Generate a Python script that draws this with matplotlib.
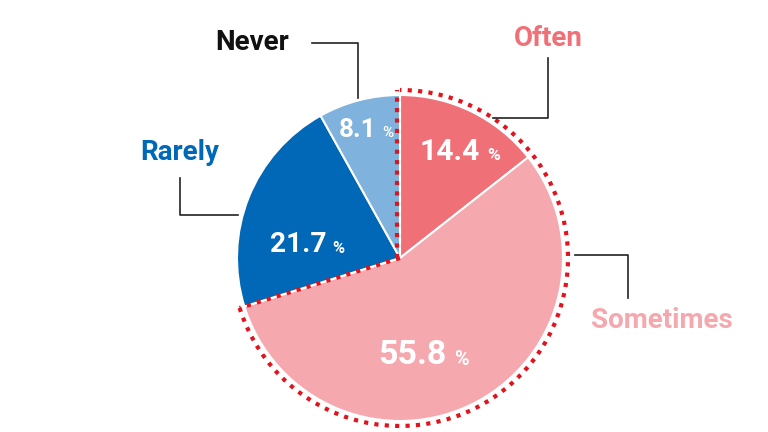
import matplotlib
matplotlib.use("Agg")
import matplotlib.pyplot as plt
import numpy as np
from matplotlib.patches import Arc

categories = ["Often", "Sometimes", "Rarely", "Never"]
values = [14.4, 55.8, 21.7, 8.1]
colors = ["#F07078", "#F5A8AE", "#0068B7", "#7FB2DC"]
label_colors = ["#F07078", "#F5A8AE", "#0068B7", "#111111"]

H = 432
fig = plt.figure(figsize=(7.68, 4.32), dpi=100)
ax = fig.add_axes([0, 0, 1, 1])
ax.set_xlim(0, 768); ax.set_ylim(0, H); ax.set_aspect("equal"); ax.axis("off")

cx, cy, r = 400, H - 258, 163
ax.pie(values, startangle=90, counterclock=False, center=(cx, cy), radius=r,
       colors=colors, wedgeprops=dict(edgecolor="white", linewidth=1.5), frame=True)
ax.set_xlim(0, 768); ax.set_ylim(0, H); ax.axis("off")

# dotted outline around Often + Sometimes
frac = (values[0] + values[1]) / 100
end = 90 - frac * 360
R = 168
red = "#E0141E"
ax.add_patch(Arc((cx, cy), 2 * R, 2 * R, theta1=end, theta2=90, color=red, lw=3, ls=(0, (1, 1.5))))
ax.plot([cx - 3, cx - 3], [cy, cy + R], color=red, lw=3, ls=(0, (1, 1.5)))
ax.plot([cx, cx + R * np.cos(np.radians(end))], [cy, cy + R * np.sin(np.radians(end))],
        color=red, lw=3, ls=(0, (1, 1.5)))

# percentage labels
pct_pos = [(450, 152, 30), (412, 355, 34), (298, 245, 28), (358, 130, 26)]
for v, (px, py, fs) in zip(values, pct_pos):
    t = ax.text(px, H - py, f"{v}", color="white", fontsize=fs * 0.72, fontweight="bold",
                ha="center", va="center", family="Roboto")
    w = len(f"{v}") * fs * 0.3
    ax.text(px + w + 1, H - py - fs * 0.12, "%", color="white", fontsize=fs * 0.42,
            fontweight="bold", ha="left", va="center", family="Roboto")

# category labels
lab_pos = [(548, 38), (662, 320), (180, 152), (252, 42)]
for c, col, (px, py) in zip(categories, label_colors, lab_pos):
    ax.text(px, H - py, c, color=col, fontsize=20, fontweight="bold", ha="center", va="center",
            family="Roboto")

leaders = [
    [(548, 58), (548, 118), (493, 118)],
    [(628, 298), (628, 255), (575, 255)],
    [(180, 178), (180, 215), (238, 215)],
    [(312, 43), (358, 43), (358, 98)],
]
for pts in leaders:
    xs = [p[0] for p in pts]; ys = [H - p[1] for p in pts]
    ax.plot(xs, ys, color="#222222", lw=1.2)

fig.savefig("out.png", dpi=100)
